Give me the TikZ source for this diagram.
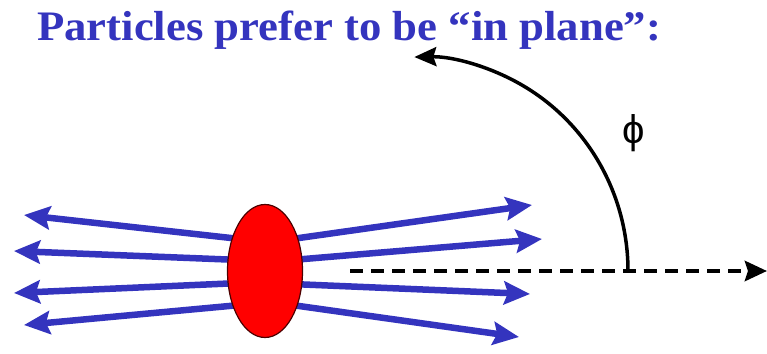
\documentclass[tikz,border=0pt]{standalone}
\usepackage{fontspec}
\setmainfont{Liberation Serif}
\newfontfamily\phifont{Liberation Sans}
\usetikzlibrary{arrows.meta,shapes.geometric}
\definecolor{pblue}{RGB}{52,52,190}
\definecolor{pred}{RGB}{255,0,0}
\tikzset{
  particle/.style={draw=pblue,line width=6.5pt,-{Stealth[length=26pt,width=23pt,inset=4pt]}},
  axisline/.style={draw=black,line width=4.5pt,dash pattern=on 13pt off 8pt,-{Stealth[length=22pt,width=20pt,inset=3pt]}},
  anglearc/.style={draw=black,line width=3.5pt,-{Stealth[length=22pt,width=19pt,inset=3pt]}},
  source/.style={ellipse,draw=black!70!red,line width=1.2pt,fill=pred,minimum width=75pt,minimum height=133pt,inner sep=0pt},
}
\begin{document}
\begin{tikzpicture}[x=1pt,y=-1pt]
\useasboundingbox (0,0) rectangle (767,353);
\node[anchor=base west,text=pblue,font=\bfseries\fontsize{42}{42}\selectfont,inner sep=0pt,xscale=1.065] (title) at (37,41) {Particles prefer to be “in plane”:};
% particle directions
\coordinate (l1s) at (240,239); \coordinate (l1t) at (24,215);
\coordinate (l2s) at (240,260); \coordinate (l2t) at (14,251);
\coordinate (l3s) at (240,283); \coordinate (l3t) at (14,293);
\coordinate (l4s) at (240,305); \coordinate (l4t) at (24,325);
\coordinate (r1s) at (292,239); \coordinate (r1t) at (532,205);
\coordinate (r2s) at (292,260); \coordinate (r2t) at (542,239);
\coordinate (r3s) at (292,284); \coordinate (r3t) at (530,294);
\coordinate (r4s) at (292,305); \coordinate (r4t) at (519,337);
\foreach \a in {l1,l2,l3,l4,r1,r2,r3,r4}{
  \draw[particle] (\a s) -- (\a t);
}
\node[source] (src) at (265,271) {};
% reaction plane axis
\coordinate (ax0) at (350,271);
\coordinate (ax1) at (767,271);
\draw[axisline] (ax0) -- (ax1);
% angle arc
\coordinate (arc0) at (628,271);
\draw[anglearc] (arc0) arc[start angle=0,end angle=-91,x radius=210,y radius=214];
\node[font=\phifont\fontsize{40}{40}\selectfont,inner sep=0pt] (phi) at (634,133) {ϕ};
\end{tikzpicture}
\end{document}
